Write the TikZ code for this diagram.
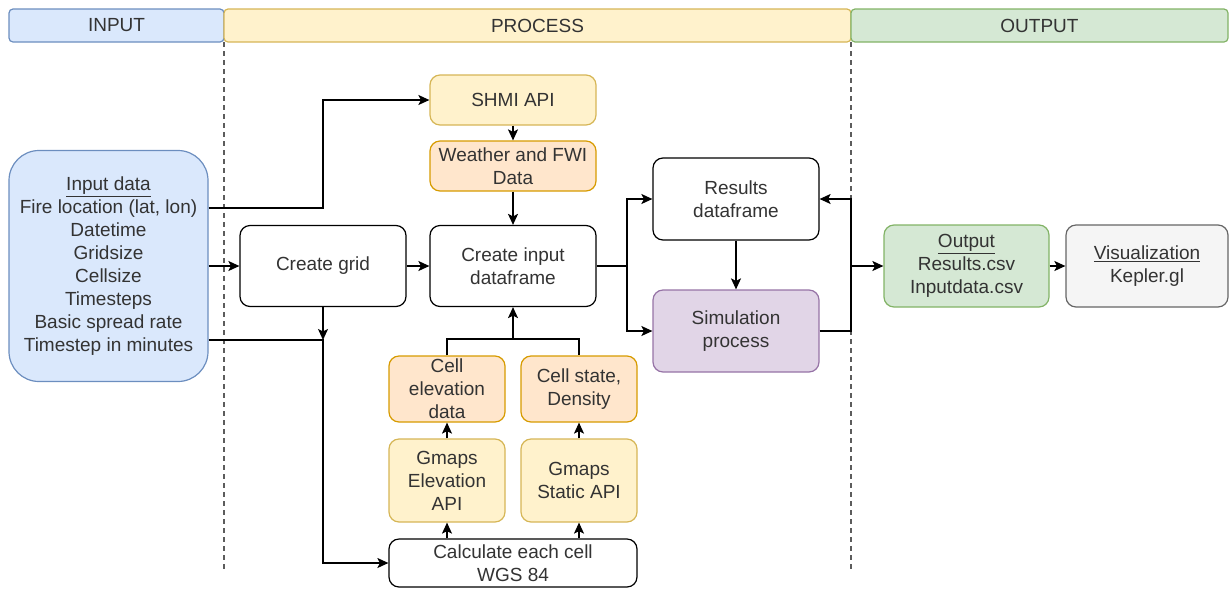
\documentclass[tikz,border=0pt]{standalone}
\usepackage{fontspec}
\setmainfont{Liberation Sans}
\usetikzlibrary{arrows.meta}
\definecolor{blueF}{HTML}{DAE8FC}\definecolor{blueD}{HTML}{6C8EBF}
\definecolor{yelF}{HTML}{FFF2CC}\definecolor{yelD}{HTML}{D6B656}
\definecolor{oraF}{HTML}{FFE6CC}\definecolor{oraD}{HTML}{D79B00}
\definecolor{purF}{HTML}{E1D5E7}\definecolor{purD}{HTML}{9673A6}
\definecolor{grnF}{HTML}{D5E8D4}\definecolor{grnD}{HTML}{82B366}
\definecolor{gryF}{HTML}{F5F5F5}\definecolor{gryD}{HTML}{666666}
\definecolor{txt}{HTML}{333333}
\begin{document}
\begin{tikzpicture}[x=1pt,y=-1pt,
  box/.style={draw, rounded corners=10pt, line width=1.2pt, inner sep=0pt, align=center,
    font=\fontsize{19}{23}\selectfont, text=txt, fill=white},
  head/.style={box, rounded corners=4pt, minimum height=33pt},
  yel/.style={fill=yelF, draw=yelD},
  ora/.style={fill=oraF, draw=oraD},
  arr/.style={line width=1.4pt, -{Stealth[length=11pt,width=10pt,inset=2.5pt]}},
  ln/.style={line width=1.4pt},
  sep/.style={draw=gryD!90!black, line width=1.3pt, dash pattern=on 5pt off 4pt}]
\useasboundingbox (0,0) rectangle (1229,590);
% headers
\node[head, fill=blueF, draw=blueD, minimum width=215pt] (hin) at (116.5,25.5) {INPUT};
\node[head, fill=yelF, draw=yelD, minimum width=627pt] (hpr) at (537.5,25.5) {PROCESS};
\node[head, fill=grnF, draw=grnD, minimum width=377pt] (hout) at (1039.5,25.5) {OUTPUT};
\draw[sep] (224,42) -- (224,572);
\draw[sep] (851,42) -- (851,572);
% nodes
\node[box, fill=blueF, draw=blueD, rounded corners=30pt, minimum width=199pt, minimum height=231pt] (inp) at (108.5,266)
 {\underline{Input data}\\Fire location (lat, lon)\\Datetime\\Gridsize\\Cellsize\\Timesteps\\Basic spread rate\\Timestep in minutes};
\node[box, minimum width=166pt, minimum height=81pt] (grid) at (323,266) {Create grid};
\node[box, yel, minimum width=166pt, minimum height=50pt] (shmi) at (513,100) {SHMI API};
\node[box, ora, minimum width=166pt, minimum height=50pt] (wea) at (513,166) {Weather and FWI\\Data};
\node[box, minimum width=166pt, minimum height=81pt] (cidf) at (513,266) {Create input\\dataframe};
\node[box, minimum width=166pt, minimum height=82pt] (res) at (736,199) {Results\\dataframe};
\node[box, fill=purF, draw=purD, minimum width=166pt, minimum height=82pt] (sim) at (736,331) {Simulation\\process};
\node[box, ora, minimum width=116pt, minimum height=66pt] (celev) at (447,389) {Cell\\elevation\\data};
\node[box, ora, minimum width=116pt, minimum height=66pt] (cstate) at (579,389) {Cell state,\\Density};
\node[box, yel, minimum width=116pt, minimum height=83pt] (gelev) at (447,480.5) {Gmaps\\Elevation\\API};
\node[box, yel, minimum width=116pt, minimum height=83pt] (gstat) at (579,480.5) {Gmaps\\Static API};
\node[box, minimum width=248pt, minimum height=48pt] (calc) at (513,563) {Calculate each cell\\WGS 84};
\node[box, fill=grnF, draw=grnD, minimum width=165pt, minimum height=82pt] (out) at (966.5,266) {\underline{Output}\\Results.csv\\Inputdata.csv};
\node[box, fill=gryF, draw=gryD, minimum width=162pt, minimum height=82pt] (vis) at (1147,266) {\underline{Visualization}\\Kepler.gl};
% junctions
\coordinate (ja) at (323,208);
\coordinate (jb) at (323,340);
\coordinate (jc) at (627,266);
\coordinate (jd) at (851,266);
\coordinate (je) at (513,339);
% connectors
\draw[arr] (inp.east |- ja) -- (ja) |- (shmi.west);
\draw[arr] (inp.east |- grid) -- (grid.west);
\draw[arr] (grid.south) -- (jb);
\draw[arr] (inp.east |- jb) -- (jb) |- (calc.west);
\draw[arr] (shmi) -- (wea);
\draw[arr] (wea) -- (cidf);
\draw[arr] (grid) -- (cidf);
\draw[arr] (cidf.east) -- (jc) |- (res.west);
\draw[arr] (jc) |- (sim.west);
\draw[arr] (res) -- (sim);
\draw[arr] (sim.east) -| (jd) |- (res.east);
\draw[arr] (jd) -- (out.west);
\draw[arr] (out) -- (vis);
\draw[ln] (celev.north) |- (je) -| (cstate.north);
\draw[arr] (je) -- (cidf.south);
\draw[arr] (gelev) -- (celev);
\draw[arr] (gstat) -- (cstate);
\draw[arr] (calc.north -| gelev) -- (gelev);
\draw[arr] (calc.north -| gstat) -- (gstat);
\end{tikzpicture}
\end{document}
